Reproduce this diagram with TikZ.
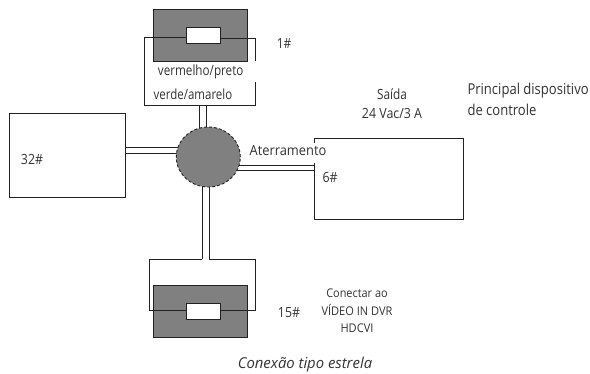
\documentclass[tikz,border=0pt]{standalone}
\usepackage{fontspec}
\setmainfont{Open Sans}
\definecolor{hubgray}{HTML}{808080}
\definecolor{ink}{HTML}{222222}
\definecolor{txt}{HTML}{333333}
\newcommand{\cond}[2]{\scalebox{#1}[1]{#2}}
\tikzset{
  x=1pt,y=-1pt,
  wire/.style={draw=ink,line width=1pt},
  boxnode/.style={draw=ink,line width=1pt,fill=white,inner sep=0pt,outer sep=0pt},
  cablebody/.style={draw=ink,line width=1pt,fill=hubgray,inner sep=0pt,outer sep=0pt,minimum width=94pt,minimum height=52pt},
  resistor/.style={draw=ink,line width=1pt,fill=white,inner sep=0pt,outer sep=0pt,minimum width=34pt,minimum height=16pt},
  hubnode/.style={draw=ink,line width=0.9pt,densely dashed,fill=hubgray,ellipse,inner sep=0pt,outer sep=0pt,minimum width=64pt,minimum height=60pt},
  lab/.style={text=txt,inner sep=0pt,outer sep=0pt,font=\fontsize{14}{16}\selectfont,align=center},
  labsmall/.style={text=txt,inner sep=0pt,outer sep=0pt,font=\fontsize{14}{19}\selectfont,align=center}
}
\usetikzlibrary{shapes.geometric}
\begin{document}
\begin{tikzpicture}
\useasboundingbox (0,0) rectangle (590,373);
% bodies
\node[cablebody] (topbody) at (200.3,35) {};
\node[cablebody] (botbody) at (200.3,311) {};
% boxes
\node[boxnode,minimum width=116pt,minimum height=83.5pt] (b32) at (67,155.5) {};
\coordinate (c6tl) at (314.7,138.7);
\coordinate (c6tr) at (463.7,138.7);
\coordinate (c6br) at (463.7,219.7);
\coordinate (c6bl) at (314.7,219.7);
\coordinate (c6g1) at (314.7,143);
\coordinate (c6g2) at (314.7,163);
\draw[wire] (c6g1) -- (c6tl) -- (c6tr) -- (c6br) -- (c6bl) -- (c6g2);
% resistors
\node[resistor] (toprs) at (203,35) {};
\node[resistor] (botrs) at (203,311) {};
% top wire loop
\coordinate (tl) at (144,37);
\coordinate (tbl) at (144,105);
\coordinate (tbr) at (255,105);
\coordinate (tg1) at (255,82);
\coordinate (tg2) at (255,61);
\coordinate (tr) at (255,38);
\draw[wire] (toprs.west |- tl) -- (tl) -- (tbl) -- (tbr) -- (tg1);
\draw[wire] (toprs.east |- tr) -- (tr) -- (tg2);
% bottom wire loop
\coordinate (bl) at (149.3,310);
\coordinate (btl) at (149.3,259);
\coordinate (btr) at (255,259);
\coordinate (br) at (255,310);
\coordinate (bc1) at (202.3,259);
\coordinate (bc2) at (209.3,259);
\draw[wire] (botrs.west |- bl) -- (bl) -- (btl) -- (bc1);
\draw[wire] (bc2) -- (btr) -- (br) -- (botrs.east |- br);
% hub connectors
\node[hubnode,draw=none,fill=none] (hubref) at (208.3,157) {};
\coordinate (u1) at (199,105);
\coordinate (u2) at (206,105);
\coordinate (l1) at (125,147.7);
\coordinate (l2) at (125,153.3);
\coordinate (r1) at (314.7,165.7);
\coordinate (r2) at (314.7,170.7);
\draw[wire] (u1) -- (u1 |- hubref.center);
\draw[wire] (u2) -- (u2 |- hubref.center);
\draw[wire] (l1) -- (l1 -| hubref.center);
\draw[wire] (l2) -- (l2 -| hubref.center);
\draw[wire] (r1) -- (r1 -| hubref.center);
\draw[wire] (r2) -- (r2 -| hubref.center);
\draw[wire] (bc1) -- (bc1 |- hubref.center);
\draw[wire] (bc2) -- (bc2 |- hubref.center);
\node[hubnode] (hub) at (208.3,157) {};
% labels
\node[lab] (t1) at (284,43) {\cond{0.85}{1\#}};
\node[lab] (t2) at (200.7,72) {\cond{0.835}{vermelho/preto}};
\node[lab] (t3) at (193,94.5) {\cond{0.82}{verde/amarelo}};
\node[lab] (t4) at (32,159) {\cond{0.88}{32\#}};
\node[lab] (t5) at (288,151) {\cond{0.92}{Aterramento}};
\node[lab] (t6) at (330,177) {\cond{0.88}{6\#}};
\node[labsmall] (t7) at (392,103.5) {\cond{0.845}{Saída}\\\cond{0.887}{24 Vac/3 A}};
\node[lab,align=left,anchor=west,font=\fontsize{15}{20.5}\selectfont] (t8) at (467.5,99.5) {\cond{0.87}{Principal dispositivo}\\\cond{0.87}{de controle}};
\node[lab] (t9) at (289,313) {\cond{0.88}{15\#}};
\node[labsmall,font=\fontsize{12}{17.5}\selectfont] (t10) at (357,311) {\cond{0.91}{Conectar ao}\\\cond{0.92}{VÍDEO IN DVR}\\\cond{0.92}{HDCVI}};
\node[lab,font=\fontsize{15}{17}\selectfont\itshape] (t11) at (305,365) {\cond{0.99}{Conexão tipo estrela}};
\end{tikzpicture}
\end{document}
